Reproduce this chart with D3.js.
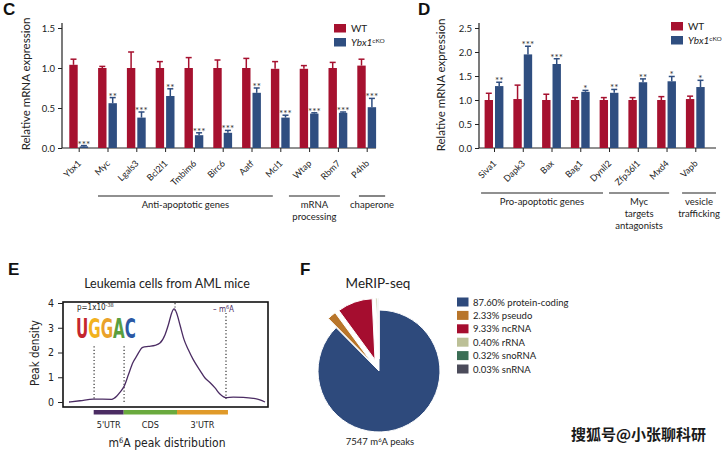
<!DOCTYPE html>
<html><head><meta charset="utf-8">
<script src="https://cdn.jsdelivr.net/npm/d3@7"></script>
<style>
body{margin:0;background:#fff}
svg{display:block;fill:#222;color:#222}
text{font-family:Lato,"Open Sans",sans-serif}
.cond{font-family:"DejaVu Sans Condensed","DejaVu Sans",sans-serif;font-stretch:condensed}
</style>
</head><body>
<svg id="fig" width="724" height="450"></svg>
<script>
// ---------- DATA ----------
const genesC = ["Ybx1","Myc","Lgals3","Bcl2l1","Tmbim6","Birc6","Aatf","Mcl1","Wtap","Rbm7","P4hb"];
const wtC    = [1.04,1.00,1.00,1.00,1.00,1.00,1.00,0.99,0.99,1.00,1.03];
const wtErrC = [1.11,1.02,1.20,1.08,1.13,1.10,1.12,1.08,1.03,1.07,1.11];
const koC    = [0.02,0.56,0.38,0.65,0.16,0.19,0.69,0.38,0.43,0.44,0.51];
const koErrC = [0.03,0.63,0.45,0.74,0.19,0.22,0.75,0.41,0.44,0.45,0.62];
const sigC   = ["***","**","***","**","***","***","**","***","***","***","***"];
const groupsC = [
  {lines:["Anti-apoptotic genes"], from:0.67, to:6.74},
  {lines:["mRNA","processing"], from:7.3, to:9.07},
  {lines:["chaperone"], from:9.73, to:10.64}
];
const ticksC = [0,0.5,1.0,1.5];

const genesD = ["Siva1","Dapk3","Bax","Bag1","Dynll2","Zfp36l1","Mxd4","Vapb"];
const wtD    = [1.00,1.02,1.00,1.00,1.00,1.00,1.00,1.02];
const wtErrD = [1.14,1.31,1.12,1.05,1.05,1.05,1.07,1.08];
const koD    = [1.29,1.95,1.75,1.17,1.15,1.37,1.39,1.27];
const koErrD = [1.37,2.12,1.86,1.20,1.22,1.44,1.49,1.41];
const sigD   = ["**","***","***","*","**","**","*","*"];
const groupsD = [
  {lines:["Pro-apoptotic genes"], from:-0.45, to:3.79},
  {lines:["Myc","targets","antagonists"], from:4.0, to:6.09},
  {lines:["vesicle","trafficking"], from:6.54, to:7.72}
];
const ticksD = [0,0.5,1.0,1.5,2.0,2.5];

// E: metagene position (0-100) and peak density
const ePos     = [0,5.6,12.4,21.8,24.3,26,28.1,30.3,32.5,34.5,37.6,40.5,43.9,46.4,49,50.7,52.4,53.6,54.9,56.6,58.7,60.9,63.4,66.8,69.4,71.9,74.5,77,79.9,83.8,88.9,94,97.4,100];
const eDensity = [0,0.05,0.12,0.11,0.23,0.39,0.63,1.1,1.58,1.85,2.21,2.25,2.29,2.38,2.72,3.12,3.6,3.76,3.6,3.12,2.52,2.11,1.71,1.28,0.97,0.79,0.57,0.32,0.18,0.2,0.19,0.15,0.09,0];
const eTicks = [0,1,2,3,4];
const eMarkers = [{pos:12.8,y0:2.25,y1:0.08},{pos:28.1,y0:2.25,y1:0},{pos:54.1,y0:4,y1:3.7},{pos:80.1,y0:3.6,y1:0.1}];
const eRegions = [{name:"5'UTR",from:12.6,to:27.9,color:"#4b2c63"},{name:"CDS",from:27.9,to:55.1,color:"#6aaa3e"},{name:"3'UTR",from:55.1,to:81.1,color:"#e09a2a"}];
const motif = [{ch:"U",c:"#c4262e"},{ch:"G",c:"#f2b21e"},{ch:"G",c:"#eaa22a"},{ch:"A",c:"#5a9e3e"},{ch:"C",c:"#2b58a5"}];

// F: pie
const fLabels = ["protein-coding","pseudo","ncRNA","rRNA","snoRNA","snRNA"];
const fValues = [87.60,2.33,9.33,0.40,0.32,0.03];
const fColors = ["#2e4a7c","#b8752a","#a50d2f","#bcc097","#3b6e55","#4b4b5a"];
const fExplode = [0,1,1,1,1,1];

const WT_COLOR = "#a6112f", KO_COLOR = "#2f4e80";

const svg = d3.select("#fig");

// ---------- Bar panel helper ----------
function barPanel(o){
  const g = svg.append("g");
  const x = d3.scalePoint().domain(o.genes).range([o.x0, o.x1]);
  const step = x.step();
  const y = d3.scaleLinear().domain([0,o.ymax]).range([148,28]);
  const bw = 8.4;
  const ya = g.append("g").attr("transform",`translate(${o.axisX},0)`)
    .call(d3.axisLeft(y).tickValues(o.ticks).tickFormat(d3.format(".1f")).tickSize(4).tickPadding(3));
  ya.select(".domain").remove();
  ya.selectAll("text").style("font-size","9.5px").style("font-family","Lato,sans-serif");
  g.append("line").attr("x1",o.axisX).attr("x2",o.axisX).attr("y1",y(0)).attr("y2",y(o.ymax)-5).attr("stroke","#222").attr("stroke-width",1.2);
  g.append("line").attr("x1",o.axisX).attr("x2",o.xEnd).attr("y1",y(0)).attr("y2",y(0)).attr("stroke","#222").attr("stroke-width",1.2);
  const xa = g.append("g").attr("transform",`translate(0,${y(0)})`)
    .call(d3.axisBottom(x).tickSize(4).tickFormat(""));
  xa.select(".domain").remove();
  const data = o.genes.map((d,i)=>({g:d,wt:o.wt[i],wte:o.wtErr[i],ko:o.ko[i],koe:o.koErr[i],s:o.sig[i]}));
  const grp = g.selectAll(".grp").data(data).enter().append("g");
  grp.append("rect").attr("x",d=>x(d.g)-1-bw).attr("width",bw).attr("y",d=>y(d.wt)).attr("height",d=>y(0)-y(d.wt)).attr("fill",WT_COLOR);
  grp.append("rect").attr("x",d=>x(d.g)+1).attr("width",bw).attr("y",d=>y(d.ko)).attr("height",d=>y(0)-y(d.ko)).attr("fill",KO_COLOR);
  grp.append("line").attr("x1",d=>x(d.g)-1-bw/2).attr("x2",d=>x(d.g)-1-bw/2).attr("y1",d=>y(d.wt)).attr("y2",d=>y(d.wte)).attr("stroke",WT_COLOR).attr("stroke-width",1.5);
  grp.append("line").attr("x1",d=>x(d.g)-1-bw/2-3).attr("x2",d=>x(d.g)-1-bw/2+3).attr("y1",d=>y(d.wte)).attr("y2",d=>y(d.wte)).attr("stroke",WT_COLOR).attr("stroke-width",1.5);
  grp.append("line").attr("x1",d=>x(d.g)+1+bw/2).attr("x2",d=>x(d.g)+1+bw/2).attr("y1",d=>y(d.ko)).attr("y2",d=>y(d.koe)).attr("stroke",KO_COLOR).attr("stroke-width",1.5);
  grp.append("line").attr("x1",d=>x(d.g)+1+bw/2-3).attr("x2",d=>x(d.g)+1+bw/2+3).attr("y1",d=>y(d.koe)).attr("y2",d=>y(d.koe)).attr("stroke",KO_COLOR).attr("stroke-width",1.5);
  grp.append("text").attr("x",d=>x(d.g)+1+bw/2).attr("y",d=>y(d.koe)+2).attr("text-anchor","middle")
    .style("font-size","10px").style("fill","#333").text(d=>d.s);
  g.selectAll(".xl").data(o.genes).enter().append("text")
    .attr("transform",d=>`translate(${x(d)+3},${y(0)+16}) rotate(-45)`)
    .attr("text-anchor","end").style("font-size","9px").text(d=>d);
  const idx = i => o.x0 + i*step;
  o.groups.forEach(gr=>{
    g.append("line").attr("x1",idx(gr.from)).attr("x2",idx(gr.to)).attr("y1",o.gLineY).attr("y2",o.gLineY).attr("stroke","#222").attr("stroke-width",1.1);
    gr.lines.forEach((t,k)=>{
      g.append("text").attr("x",(idx(gr.from)+idx(gr.to))/2).attr("y",o.gLineY+12+k*12)
        .attr("text-anchor","middle").style("font-size","9.5px").text(t);
    });
  });
  g.append("text").attr("transform",`translate(${o.titleX},${o.titleY}) rotate(-90)`).attr("text-anchor","middle")
    .style("font-size","11.5px").text("Relative mRNA expression");
  const L = o.legend;
  [["WT",WT_COLOR],["KO",KO_COLOR]].forEach((d,i)=>{
    g.append("rect").attr("x",L.x).attr("y",L.y+i*14).attr("width",12).attr("height",8.5).attr("fill",d[1]);
    const t = g.append("text").attr("x",L.x+17).attr("y",L.y+i*14+8).style("font-size","10px");
    if(i===0) t.text("WT");
    else { t.append("tspan").style("font-style","italic").text("Ybx1");
           t.append("tspan").attr("dy",-3.5).style("font-size","6.5px").text("cKO"); }
  });
  svg.append("text").attr("x",o.letterX).attr("y",15).style("font-size","17px").style("font-weight","900")
    .style("font-family","'Liberation Sans',Arial,sans-serif").style("fill","#111").text(o.letter);
}

barPanel({genes:genesC,wt:wtC,wtErr:wtErrC,ko:koC,koErr:koErrC,sig:sigC,groups:groupsC,ticks:ticksC,
  ymax:1.5,x0:78.7,x1:366.7,axisX:62,xEnd:376,gLineY:196,titleX:30,titleY:84,
  legend:{x:334,y:24},letter:"C",letterX:3});
barPanel({genes:genesD,wt:wtD,wtErr:wtErrD,ko:koD,koErr:koErrD,sig:sigD,groups:groupsD,ticks:ticksD,
  ymax:2.5,x0:494,x1:695.3,axisX:479,xEnd:716,gLineY:193,titleX:445,titleY:85,
  legend:{x:671,y:22},letter:"D",letterX:418});

// ---------- Panel E ----------
(function(){
  const g = svg.append("g");
  const x = d3.scaleLinear().domain([0,100]).range([69,265]);
  const y = d3.scaleLinear().domain([0,4]).range([402,303]);
  g.append("rect").attr("x",63).attr("y",302).attr("width",205).attr("height",105).attr("fill","none").attr("stroke","#111").attr("stroke-width",1.6);
  const ya = g.append("g").attr("transform","translate(63,0)").call(d3.axisLeft(y).tickValues(eTicks).tickFormat(d3.format("d")).tickSize(5).tickPadding(4));
  ya.select(".domain").remove();
  ya.selectAll("text").attr("class","cond").style("font-size","10.5px");
  eMarkers.forEach(m=>{
    g.append("line").attr("x1",x(m.pos)).attr("x2",x(m.pos)).attr("y1",y(m.y0)).attr("y2",y(m.y1))
      .attr("stroke","#222").attr("stroke-width",1.1).attr("stroke-dasharray","1.2,2.2");
  });
  const line = d3.line().x((d,i)=>x(ePos[i])).y(d=>y(d)).curve(d3.curveMonotoneX);
  g.append("path").datum(eDensity).attr("d",line).attr("fill","none").attr("stroke","#4b2c63").attr("stroke-width",1.3);
  eRegions.forEach(r=>{
    g.append("rect").attr("x",x(r.from)).attr("width",x(r.to)-x(r.from)).attr("y",410).attr("height",4.5).attr("fill",r.color);
    g.append("text").attr("x",(x(r.from)+x(r.to))/2).attr("y",428).attr("text-anchor","middle").attr("class","cond").style("font-size","9px").text(r.name);
  });
  g.append("text").attr("x",167).attr("y",288).attr("text-anchor","middle").style("font-size","12.5px").text("Leukemia cells from AML mice");
  const xl = g.append("text").attr("x",167).attr("y",447).attr("text-anchor","middle").attr("class","cond").style("font-size","12px");
  xl.append("tspan").text("m");
  xl.append("tspan").attr("dy",-4).style("font-size","7.5px").text("6");
  xl.append("tspan").attr("dy",4).text("A peak distribution");
  g.append("text").attr("transform","translate(39,353) rotate(-90)").attr("text-anchor","middle").attr("class","cond").style("font-size","11.5px").text("Peak density");
  const p = g.append("text").attr("x",77).attr("y",310).style("font-size","8px").attr("class","cond");
  p.append("tspan").text("p=1x10");
  p.append("tspan").attr("dy",-3).style("font-size","5.5px").text("-38");
  const m = g.append("text").attr("x",213).attr("y",312).style("font-size","8px").attr("class","cond").style("fill","#4b2c63");
  m.append("tspan").text("– m");
  m.append("tspan").attr("dy",-3).style("font-size","5.5px").text("6");
  m.append("tspan").attr("dy",3).text("A");
  const logo = g.append("text").attr("transform","translate(76,338) scale(0.56,1)")
    .style("font-size","27px").style("font-weight","bold").style("font-family","'DejaVu Sans','Liberation Sans',sans-serif");
  motif.forEach(l=>{ logo.append("tspan").style("fill",l.c).text(l.ch); });
  svg.append("text").attr("x",8).attr("y",275).style("font-size","17px").style("font-weight","900")
    .style("font-family","'Liberation Sans',Arial,sans-serif").style("fill","#111").text("E");
})();

// ---------- Panel F ----------
(function(){
  const g = svg.append("g");
  const cx = 379, cy = 371, r = 61, off = 12;
  const pie = d3.pie().sort(null).value(d=>d).startAngle(0).endAngle(2*Math.PI);
  const arcs = pie(fValues);
  const arc = d3.arc().innerRadius(0).outerRadius(r);
  g.selectAll("path").data(arcs).enter().append("path")
    .attr("d",arc)
    .attr("transform",(d,i)=>{
      const a = (d.startAngle+d.endAngle)/2, o = fExplode[i]*off;
      return `translate(${cx+Math.sin(a)*o},${cy-Math.cos(a)*o})`;
    })
    .attr("fill",(d,i)=>fColors[i]).attr("stroke","#fff").attr("stroke-width",1);
  g.append("text").attr("x",378).attr("y",288).attr("text-anchor","middle").style("font-size","13.5px").text("MeRIP-seq");
  fLabels.forEach((l,i)=>{
    g.append("rect").attr("x",457).attr("y",297.5+i*13.4).attr("width",11.5).attr("height",9).attr("fill",fColors[i]);
    g.append("text").attr("x",473).attr("y",305.5+i*13.4).style("font-size","9.5px")
      .text(fValues[i].toFixed(2)+"% "+l);
  });
  const t = g.append("text").attr("x",380).attr("y",445).attr("text-anchor","middle").style("font-size","9.5px");
  t.append("tspan").text("7547 m");
  t.append("tspan").attr("dy",-3).style("font-size","6px").text("6");
  t.append("tspan").attr("dy",3).text("A peaks");
  svg.append("text").attr("x",300).attr("y",275).style("font-size","17px").style("font-weight","900")
    .style("font-family","'Liberation Sans',Arial,sans-serif").style("fill","#111").text("F");
  svg.append("text").attr("x",571).attr("y",440).style("font-size","15px").style("font-weight","bold")
    .style("font-family","'Noto Sans CJK SC',sans-serif").style("fill","#1a1a1a").text("搜狐号@小张聊科研");
})();
</script>
</body></html>
